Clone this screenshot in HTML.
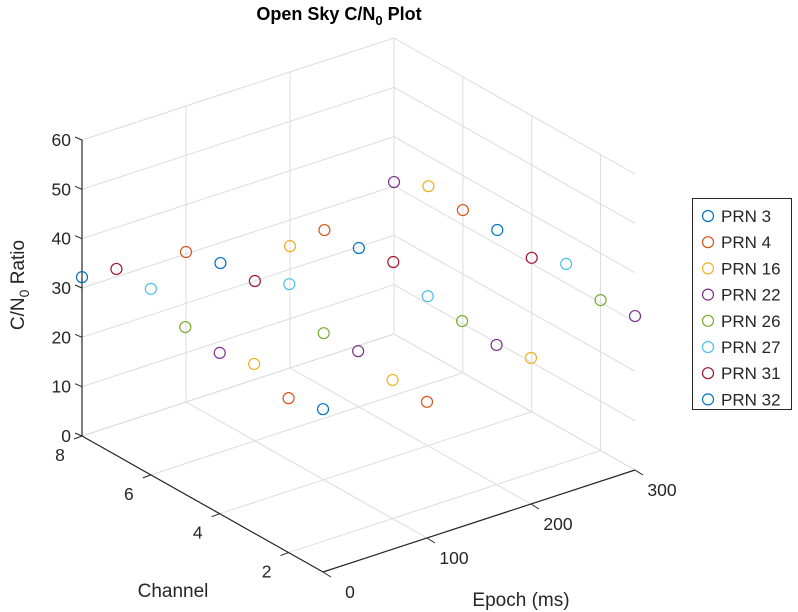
<!DOCTYPE html>
<html><head><meta charset="utf-8"><style>
html,body{margin:0;padding:0;background:#fff;}
svg{display:block;font-family:"Liberation Sans",Arial,sans-serif;}
</style></head><body>
<svg id="chart" width="798" height="612" viewBox="0 0 798 612" xmlns="http://www.w3.org/2000/svg">
<rect x="0" y="0" width="798" height="612" fill="#fff"/>
<g id="grid"></g>
<g id="axes"></g>
<g id="marks"></g>
<text x="339" y="20" text-anchor="middle" font-size="18" font-weight="bold" fill="#000">Open Sky C/N<tspan font-size="13" dy="5">0</tspan><tspan dy="-5"> Plot</tspan></text>
<text transform="translate(24,285) rotate(-90)" text-anchor="middle" font-size="19" fill="#262626">C/N<tspan font-size="14" dy="5">0</tspan><tspan dy="-5"> Ratio</tspan></text>
<text x="173" y="597" text-anchor="middle" font-size="19" fill="#262626">Channel</text>
<text x="521" y="606" text-anchor="middle" font-size="19" fill="#262626">Epoch (ms)</text>
<g id="legend"></g>
</svg>
<script>
const prnNames = ["PRN 3","PRN 4","PRN 16","PRN 22","PRN 26","PRN 27","PRN 31","PRN 32"];
const prnColors = ["#0072BD","#D95319","#EDB120","#7E2F8E","#77AC30","#4DBEEE","#A2142F","#0072BD"];
const epochPRN3 = [0,100,200,300];   const chanPRN3 = [8,7,6,5];   const cn0PRN3 = [32.2,32.1,32.2,32.9];
const epochPRN4 = [0,100,100,200,300]; const chanPRN4 = [2,1,8,7,6]; const cn0PRN4 = [31.3,27.6,30.4,31.9,33.0];
const epochPRN16 = [0,100,200,200,300]; const chanPRN16 = [3,2,1,8,7]; const cn0PRN16 = [34.3,28.1,29.6,24.7,33.9];
const epochPRN22 = [0,100,200,300,300]; const chanPRN22 = [4,3,2,1,8]; const cn0PRN22 = [32.6,30.0,28.3,31.2,30.8];
const epochPRN26 = [0,100,200,300]; const chanPRN26 = [5,4,3,2]; const cn0PRN26 = [33.9,29.7,29.2,30.5];
const epochPRN27 = [0,100,200,300]; const chanPRN27 = [6,5,4,3]; const cn0PRN27 = [37.7,35.7,30.3,33.9];
const epochPRN31 = [0,100,200,300]; const chanPRN31 = [7,6,5,4]; const cn0PRN31 = [37.8,32.4,33.3,31.2];
const epochPRN32 = [0]; const chanPRN32 = [1]; const cn0PRN32 = [33.0];
const epochTicks = [0,100,200,300];
const channelTicks = [2,4,6,8];
const zTicks = [0,10,20,30,40,50,60];

const series = [
 [epochPRN3,chanPRN3,cn0PRN3],[epochPRN4,chanPRN4,cn0PRN4],[epochPRN16,chanPRN16,cn0PRN16],
 [epochPRN22,chanPRN22,cn0PRN22],[epochPRN26,chanPRN26,cn0PRN26],[epochPRN27,chanPRN27,cn0PRN27],
 [epochPRN31,chanPRN31,cn0PRN31],[epochPRN32,chanPRN32,cn0PRN32]];

const NS="http://www.w3.org/2000/svg";
const O=[323,572], E=[312/300,-102/300], C=[-241/7,-136/7], Z=-296/60;
function proj(e,c,z){return [O[0]+e*E[0]+(c-1)*C[0], O[1]+e*E[1]+(c-1)*C[1]+z*Z];}
function line(g,p,q,col,w){const l=document.createElementNS(NS,"line");
 l.setAttribute("x1",p[0]);l.setAttribute("y1",p[1]);l.setAttribute("x2",q[0]);l.setAttribute("y2",q[1]);
 l.setAttribute("stroke",col);l.setAttribute("stroke-width",w);g.appendChild(l);return l;}
function text(g,x,y,s,anchor,fs){const t=document.createElementNS(NS,"text");
 t.setAttribute("x",x);t.setAttribute("y",y);t.setAttribute("font-size",fs||"17.5");t.setAttribute("fill","#262626");
 t.setAttribute("text-anchor",anchor);t.textContent=s;g.appendChild(t);return t;}

const grid=document.getElementById("grid"), gc="#dcdcdc";
zTicks.forEach(z=>{
 let l=line(grid,proj(0,8,z),proj(300,8,z),gc,1);
 
 l=line(grid,proj(300,8,z),proj(300,1,z),gc,1);
 
});
epochTicks.forEach(e=>{
 let l=line(grid,proj(e,8,0),proj(e,8,60),gc,1);
 
 l=line(grid,proj(e,1,0),proj(e,8,0),gc,1);
 
});
channelTicks.forEach(c=>{
 let l=line(grid,proj(300,c,0),proj(300,c,60),gc,1);
 
 l=line(grid,proj(0,c,0),proj(300,c,0),gc,1);
 
});

const axes=document.getElementById("axes"), ac="#262626";
let a=line(axes,proj(0,8,0),proj(0,8,60),ac,1.2);

a=line(axes,proj(0,1,0),proj(0,8,0),ac,1.2);

a=line(axes,proj(0,1,0),proj(300,1,0),ac,1.2);

zTicks.forEach(z=>{const p=proj(0,8,z);
 line(axes,p,[p[0]-7,p[1]-3],ac,1);
 const t=text(axes,p[0]-11,p[1]+6,String(z),"end");
 
});
channelTicks.forEach(c=>{const p=proj(0,c,0);
 line(axes,p,[p[0]-8,p[1]+3],ac,1);
 const t=text(axes,p[0]-22,p[1]+25,String(c),"middle");
 
});
epochTicks.forEach(e=>{const p=proj(e,1,0);
 line(axes,p,[p[0]+8,p[1]+5],ac,1);
 const t=text(axes,p[0]+27,p[1]+26,String(e),"middle");
 
});

const marks=document.getElementById("marks");
series.forEach((s,i)=>{
 s[0].forEach((e,j)=>{const p=proj(e,s[1][j],s[2][j]);
  const c=document.createElementNS(NS,"circle");
  c.setAttribute("cx",p[0]);c.setAttribute("cy",p[1]);c.setAttribute("r",5.5);
  c.setAttribute("fill","none");c.setAttribute("stroke",prnColors[i]);c.setAttribute("stroke-width",1.2);
  
  
  marks.appendChild(c);});
});

const lg=document.getElementById("legend");
const box=document.createElementNS(NS,"rect");
box.setAttribute("x",692.5);box.setAttribute("y",198.5);box.setAttribute("width",99);box.setAttribute("height",211);
box.setAttribute("fill","#fff");box.setAttribute("stroke","#262626");box.setAttribute("stroke-width",1);


lg.appendChild(box);
prnNames.forEach((n,i)=>{const y=216+i*26.2;
 const c=document.createElementNS(NS,"circle");
 c.setAttribute("cx",708);c.setAttribute("cy",y);c.setAttribute("r",5.5);
 c.setAttribute("fill","none");c.setAttribute("stroke",prnColors[i]);c.setAttribute("stroke-width",1.2);
 
 
 lg.appendChild(c);
 const t=text(lg,721,y+6,n,"start","17");
 
 
});
</script>
</body></html>
